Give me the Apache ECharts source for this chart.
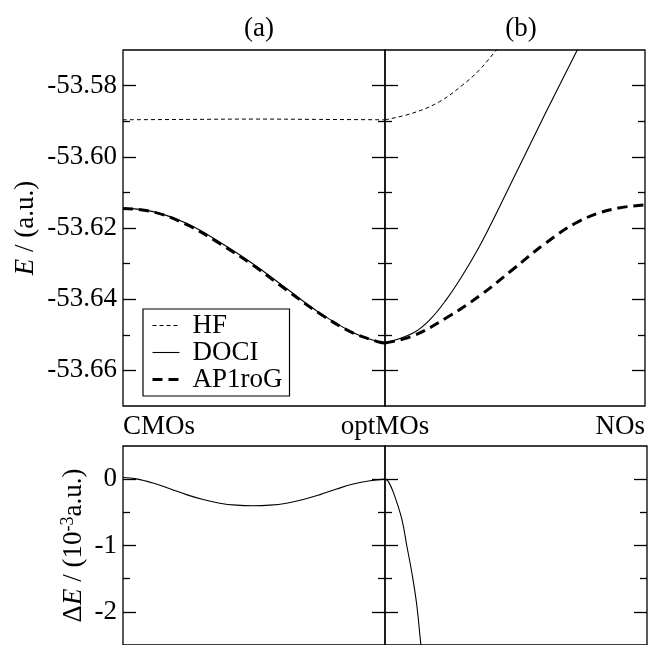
<!DOCTYPE html>
<html><head><meta charset="utf-8">
<script src="https://cdn.jsdelivr.net/npm/echarts@6/dist/echarts.min.js"></script>
<style>html,body{margin:0;padding:0;background:#fff}#c{width:648px;height:645px}</style>
</head><body><div id="c"></div>
<script>
const FONT = 'Liberation Serif';
const panelTitles = ['(a)', '(b)'];
const pathLabels = ['CMOs', 'optMOs', 'NOs'];
const legendNames = ['HF', 'DOCI', 'AP1roG'];
const topMajorTicks = [-53.66, -53.64, -53.62, -53.60, -53.58];
const topMinorTicks = [-53.65, -53.63, -53.61, -53.59];
const botMajorTicks = [-2, -1, 0];
const botMinorTicks = [-1.5, -0.5];

// panel (a): path coordinate 0 (CMOs) -> 1 (optMOs)
const hfA_x = [0, 0.25, 0.5, 0.75, 1];
const hfA_y = [-53.5896, -53.5895, -53.5894, -53.5895, -53.5896];
const ciA_x = [0, 0.115, 0.242, 0.37, 0.497, 0.624, 0.752, 0.879, 0.981, 1];
const dociA_y = [-53.6145, -53.6154, -53.6187, -53.6240, -53.6301, -53.6370, -53.6439, -53.6494, -53.6521, -53.6523];
const ap1A_y = [-53.6145, -53.6155, -53.6190, -53.6244, -53.6305, -53.6374, -53.6441, -53.6495, -53.6521, -53.6523];

// panel (b): path coordinate 1 (optMOs) -> 2 (NOs)
const hfB_x = [1, 1.108, 1.21, 1.299, 1.363, 1.426, 1.5];
const hfB_y = [-53.5896, -53.5877, -53.5845, -53.5798, -53.5756, -53.5702, -53.5638];
const dociB_x = [1, 1.108, 1.172, 1.235, 1.299, 1.363, 1.426, 1.489, 1.617, 1.738, 1.8];
const dociB_y = [-53.6523, -53.6495, -53.6458, -53.6402, -53.6332, -53.6252, -53.6162, -53.6068, -53.5878, -53.5702, -53.5610];
const ap1B_x = [1, 1.108, 1.235, 1.363, 1.489, 1.617, 1.744, 1.871, 2];
const ap1B_y = [-53.6523, -53.6503, -53.6453, -53.6391, -53.6318, -53.6243, -53.6182, -53.6148, -53.6135];

// lower panel: Delta E (1e-3 a.u.)
const dEA_x = [0, 0.051, 0.115, 0.179, 0.242, 0.306, 0.369, 0.433, 0.497, 0.561, 0.624, 0.688, 0.752, 0.815, 0.879, 0.943, 1];
const dEA_y = [0.024, 0.004, -0.059, -0.144, -0.233, -0.307, -0.362, -0.392, -0.401, -0.392, -0.362, -0.307, -0.233, -0.149, -0.074, -0.025, 0];
const dEB_x = [1, 1.012, 1.032, 1.064, 1.083, 1.102, 1.121, 1.136, 1.15];
const dEB_y = [0, -0.03, -0.2, -0.6, -1.0, -1.4, -1.89, -2.46, -2.95];

const zip = (xs, ys) => xs.map((x, i) => [x, ys[i]]);

const grids = [
  {left: 123, top: 50, width: 262, height: 356},
  {left: 385, top: 50, width: 262, height: 356},
  {left: 123, top: 446, width: 262, height: 202},
  {left: 385, top: 446, width: 262, height: 202}
].map(g => Object.assign({show: true, borderColor: '#000', borderWidth: 1.3, backgroundColor: 'transparent'}, g));

const txt = {color: '#000', fontFamily: FONT, fontSize: 27};

function xAx(gi, min, max, labels) {
  const a = {type: 'value', gridIndex: gi, min: min, max: max,
    axisLine: {show: false}, axisTick: {show: false}, splitLine: {show: false},
    axisLabel: {show: false}};
  if (labels) {
    a.axisLabel = Object.assign({show: true, margin: 7, customValues: labels.vals,
      formatter: v => labels.text[labels.vals.indexOf(v)],
      alignMinLabel: labels.minAlign, alignMaxLabel: labels.maxAlign}, txt);
  }
  return a;
}
function yAxes(gi, min, max, major, minor, showLabels, nameObj) {
  const base = {type: 'value', gridIndex: gi, min: min, max: max,
    axisLine: {show: false}, splitLine: {show: false}};
  const out = [];
  ['left', 'right'].forEach(pos => {
    const maj = Object.assign({}, base, {position: pos,
      axisTick: {show: true, inside: true, length: 13, customValues: major, lineStyle: {color: '#000', width: 1.3}},
      axisLabel: {show: false}});
    if (pos === 'left' && showLabels) {
      maj.axisLabel = Object.assign({show: true, margin: 6, customValues: major,
        formatter: showLabels}, txt);
      Object.assign(maj, nameObj);
    }
    out.push(maj);
    out.push(Object.assign({}, base, {position: pos,
      axisTick: {show: true, inside: true, length: 7, customValues: minor, lineStyle: {color: '#000', width: 1.3}},
      axisLabel: {show: false}}));
  });
  return out;
}

const topName = {
  name: '{i|E}{d| / (a.u.)}', nameLocation: 'middle', nameGap: 84,
  nameTextStyle: {rich: {
    i: Object.assign({}, txt, {fontStyle: 'italic'}),
    d: Object.assign({}, txt)
  }}
};
const botName = {
  name: '{d|Δ}{i|E}{d| / (10}{s|-3}{d|a.u.)}', nameLocation: 'middle', nameGap: 34,
  nameTextStyle: {rich: {
    i: Object.assign({}, txt, {fontStyle: 'italic'}),
    d: Object.assign({}, txt),
    s: Object.assign({}, txt, {fontSize: 18, verticalAlign: 'top', lineHeight: 30})
  }}
};

const yAxis = [].concat(
  yAxes(0, -53.67, -53.57, topMajorTicks, topMinorTicks, v => v.toFixed(2), topName),
  yAxes(1, -53.67, -53.57, topMajorTicks, topMinorTicks, null),
  yAxes(2, -2.5, 0.5, botMajorTicks, botMinorTicks, v => String(Math.round(v)), botName),
  yAxes(3, -2.5, 0.5, botMajorTicks, botMinorTicks, null)
);
const xAxis = [
  xAx(0, 0, 1, {vals: [0, 1], text: [pathLabels[0], pathLabels[1]], minAlign: 'left', maxAlign: 'center'}),
  xAx(1, 1, 2, {vals: [2], text: [pathLabels[2]], minAlign: 'right', maxAlign: 'right'}),
  xAx(2, 0, 1),
  xAx(3, 1, 2)
];

const hfStyle = {color: '#000', width: 1, type: [4, 3]};
const dociStyle = {color: '#000', width: 1.1, type: 'solid'};
const apStyle = {color: '#000', width: 3, type: [10, 6]};
function line(name, gi, data, style) {
  return {name: name, type: 'line', xAxisIndex: gi, yAxisIndex: gi * 4, data: data,
    symbol: 'none', smooth: 0.4, lineStyle: style, itemStyle: {color: '#000'}, clip: true,
    silent: true, animation: false};
}

const series = [
  line(legendNames[0], 0, zip(hfA_x, hfA_y), hfStyle),
  line(legendNames[1], 0, zip(ciA_x, dociA_y), dociStyle),
  line(legendNames[2], 0, zip(ciA_x, ap1A_y), apStyle),
  line(legendNames[0], 1, zip(hfB_x, hfB_y), hfStyle),
  line(legendNames[1], 1, zip(dociB_x, dociB_y), dociStyle),
  line(legendNames[2], 1, zip(ap1B_x, ap1B_y), apStyle),
  line('ΔE', 2, zip(dEA_x, dEA_y), dociStyle),
  line('ΔE', 3, zip(dEB_x, dEB_y), dociStyle)
];

const legendStyles = [hfStyle, dociStyle, apStyle];
const chart = echarts.init(document.getElementById('c'), null, {renderer: 'canvas'});
chart.setOption({
  backgroundColor: '#fff',
  animation: false,
  title: [
    {text: panelTitles[0], left: 254, top: 10, textAlign: 'center', textStyle: Object.assign({fontWeight: 'normal'}, txt)},
    {text: panelTitles[1], left: 516, top: 10, textAlign: 'center', textStyle: Object.assign({fontWeight: 'normal'}, txt)}
  ],
  legend: {
    data: legendNames.map((n, i) => ({name: n,
      itemStyle: {opacity: 0},
      lineStyle: {color: '#000', width: legendStyles[i].width, type: legendStyles[i].type}})),
    orient: 'vertical', left: 143, top: 309,
    itemWidth: 27, itemHeight: 12, itemGap: 0, padding: [3, 7, 3, 8],
    borderColor: '#000', borderWidth: 1.2, backgroundColor: '#fff',
    selectedMode: false,
    textStyle: Object.assign({lineHeight: 26.5, padding: [0, 0, 0, 8]}, txt)
  },
  grid: grids,
  xAxis: xAxis,
  yAxis: yAxis,
  series: series
});
</script></body></html>
